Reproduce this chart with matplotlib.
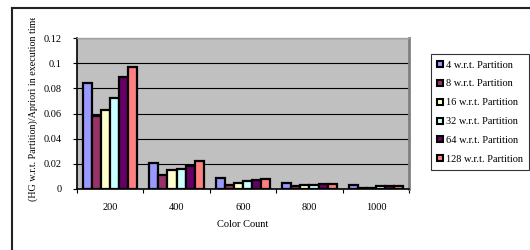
import numpy as np
import matplotlib
matplotlib.use('Agg')
import matplotlib.pyplot as plt
from matplotlib.lines import Line2D
from matplotlib.transforms import Bbox

# 数据
categories = ['200', '400', '600', '800', '1000']
series_names = ['4 w.r.t. Partition', '8 w.r.t. Partition', '16 w.r.t. Partition',
                '32 w.r.t. Partition', '64 w.r.t. Partition', '128 w.r.t. Partition']
p4 = [0.084, 0.021, 0.009, 0.005, 0.003]
p8 = [0.058, 0.011, 0.003, 0.002, 0.001]
p16 = [0.063, 0.015, 0.005, 0.003, 0.001]
p32 = [0.072, 0.016, 0.006, 0.003, 0.002]
p64 = [0.089, 0.018, 0.007, 0.004, 0.002]
p128 = [0.097, 0.022, 0.008, 0.004, 0.002]
yticks = [0, 0.02, 0.04, 0.06, 0.08, 0.1, 0.12]
ytick_labels = ['0', '0.02', '0.04', '0.06', '0.08', '0.1', '0.12']

colors = ['#9999FF', '#993366', '#FFFFCC', '#CCFFFF', '#660066', '#FF8080']
all_series = [p4, p8, p16, p32, p64, p128]

plt.rcParams['font.family'] = ['Liberation Serif', 'DejaVu Serif']

fig = plt.figure(figsize=(5.3, 2.5), dpi=100)
ax = fig.add_axes([0.145, 0.244, 0.627, 0.604])
ax.set_facecolor('#C0C0C0')

n = len(all_series)
bw = 0.82 / n
x = np.arange(len(categories))
for i, (vals, c) in enumerate(zip(all_series, colors)):
    ax.bar(x - 0.41 + bw * (i + 0.5), vals, width=bw, color=c,
           edgecolor='black', linewidth=1.6, zorder=3)

ax.set_xlim(-0.5, len(categories) - 0.5)
ax.set_ylim(0, 0.12)
ax.set_yticks(yticks)
ax.set_yticklabels(ytick_labels, fontsize=7.5)
ax.yaxis.grid(True, color='black', linewidth=0.8, zorder=1)
ax.set_axisbelow(True)

ax.set_xticks(x)
ax.set_xticklabels(categories, fontsize=7.5)
ax.tick_params(axis='x', length=0, pad=10)
ax.set_xticks(np.arange(len(categories) + 1) - 0.5, minor=True)
ax.tick_params(axis='x', which='minor', length=3, width=0.8, direction='out')
ax.tick_params(axis='y', length=3, width=0.8, pad=8)

ax.spines['left'].set_linewidth(1.2)
ax.spines['bottom'].set_linewidth(1.2)
ax.spines['right'].set_color('#808080')
ax.spines['right'].set_linewidth(2)
ax.spines['top'].set_color('#A0A0A0')
ax.spines['top'].set_linewidth(1)

ax.set_xlabel('Color Count', fontsize=7.5, labelpad=6)

# y 轴标签（顶部被裁切）
t = fig.text(0.062, 0.196, '(HG w.r.t. Partition)/Apriori in execution time',
             rotation=90, fontsize=7.2, ha='center', va='bottom')
t.set_clip_box(Bbox.from_extents(0, 0, 530, 250 - 18))
t.set_clip_on(True)

# 图例
handles = [Line2D([], [], marker='s', linestyle='none', markersize=5,
                  markerfacecolor=c, markeredgecolor='black', markeredgewidth=1.5)
           for c in colors]
leg = fig.legend(handles, series_names, loc='upper left',
                 bbox_to_anchor=(431 / 530, 1 - 54 / 250), fontsize=7.5,
                 frameon=True, fancybox=False, edgecolor='black',
                 handlelength=0.6, handletextpad=0.2, labelspacing=0.92,
                 borderpad=0.6, borderaxespad=0)
leg.get_frame().set_linewidth(0.8)

# 外框（左、上）
fig.add_artist(Line2D([12 / 530, 12 / 530], [0, 1 - 8 / 250], color='#222222', linewidth=1.5))
fig.add_artist(Line2D([12 / 530, 1], [1 - 8 / 250, 1 - 8 / 250], color='#222222', linewidth=1.5))

fig.savefig('out.png', dpi=100)
